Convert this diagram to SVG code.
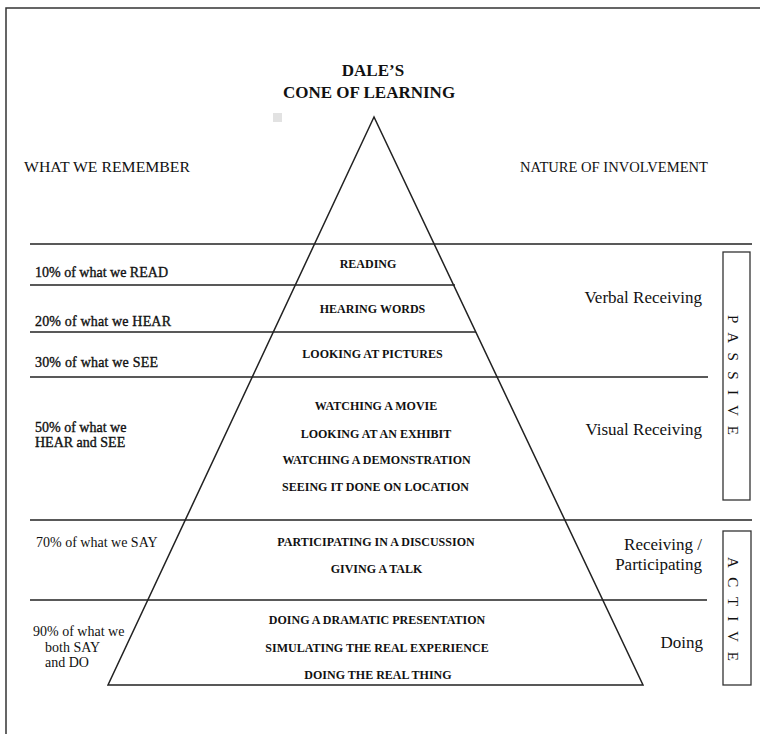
<svg xmlns="http://www.w3.org/2000/svg" width="760" height="734" viewBox="0 0 760 734">
<style>
text{font-family:"Liberation Serif","Times New Roman",serif;fill:#111}
.t{font-weight:bold;font-size:17px;text-anchor:middle}
.h{font-size:14px}
.c{font-weight:bold;font-size:12px;text-anchor:middle}
.lb{font-size:14px;stroke:#111;stroke-width:0.35}
.lr{font-size:14px}
.r{font-size:17px;text-anchor:end}
.v{font-size:15px}
.ln{stroke:#222;stroke-width:1.5;fill:none}
.box{stroke:#333;stroke-width:1.3;fill:none}
</style>
<rect width="760" height="734" fill="#fff"/>
<path d="M6,734 V8 H760" fill="none" stroke="#333" stroke-width="1.5"/>
<rect x="273" y="113" width="9" height="9" fill="#e2e2e2"/>
<g id="title">
<text class="t" x="373" y="76">DALE’S</text>
<text class="t" x="369" y="98">CONE OF LEARNING</text>
</g>
<g id="headers">
<text class="h" x="24" y="172" textLength="166" lengthAdjust="spacingAndGlyphs">WHAT WE REMEMBER</text>
<text class="h" x="520" y="172" textLength="188" lengthAdjust="spacingAndGlyphs">NATURE OF INVOLVEMENT</text>
</g>
<g id="connectors">
<polygon class="ln" points="374,117 108,685 643,685" stroke-width="1.3"/>
<line class="ln" x1="30" y1="244" x2="752" y2="244"/>
<line class="ln" x1="30" y1="285" x2="455" y2="285"/>
<line class="ln" x1="30" y1="332" x2="476" y2="332"/>
<line class="ln" x1="30" y1="377" x2="708" y2="377"/>
<line class="ln" x1="30" y1="520" x2="752" y2="520"/>
<line class="ln" x1="30" y1="600" x2="707" y2="600"/>
</g>
<g id="reading">
<text class="c" x="368" y="268">READING</text>
<text class="lb" x="35" y="277" textLength="133">10% of what we READ</text>
</g>
<g id="hearing">
<text class="c" x="372.5" y="313">HEARING WORDS</text>
<text class="lb" x="35" y="326" textLength="136">20% of what we HEAR</text>
</g>
<g id="pictures">
<text class="c" x="372.5" y="358">LOOKING AT PICTURES</text>
<text class="lb" x="35" y="367" textLength="123">30% of what we SEE</text>
</g>
<g id="visual">
<text class="c" x="376" y="410">WATCHING A MOVIE</text>
<text class="c" x="376" y="438">LOOKING AT AN EXHIBIT</text>
<text class="c" x="376.5" y="464">WATCHING A DEMONSTRATION</text>
<text class="c" x="375.5" y="491">SEEING IT DONE ON LOCATION</text>
<text class="lb" x="35" y="432">50% of what we</text>
<text class="lb" x="35" y="447">HEAR and SEE</text>
</g>
<g id="participating">
<text class="c" x="376" y="546">PARTICIPATING IN A DISCUSSION</text>
<text class="c" x="376.5" y="573">GIVING A TALK</text>
<text class="lr" x="36" y="547">70% of what we SAY</text>
</g>
<g id="doing">
<text class="c" x="377" y="624">DOING A DRAMATIC PRESENTATION</text>
<text class="c" x="377" y="652">SIMULATING THE REAL EXPERIENCE</text>
<text class="c" x="378" y="679">DOING THE REAL THING</text>
<text class="lr" x="33" y="636">90% of what we</text>
<text class="lr" x="45" y="652">both SAY</text>
<text class="lr" x="45" y="667">and DO</text>
</g>
<g id="involvement">
<text class="r" x="702" y="303">Verbal Receiving</text>
<text class="r" x="702" y="435">Visual Receiving</text>
<text class="r" x="702" y="550">Receiving /</text>
<text class="r" x="702" y="570">Participating</text>
<text class="r" x="703" y="648">Doing</text>
</g>
<g id="passive">
<rect class="box" x="723" y="252" width="27" height="248"/>
<text class="v" transform="translate(728,315) rotate(90)" textLength="120" lengthAdjust="spacing">P A S S I V E</text>
</g>
<g id="active">
<rect class="box" x="723" y="531" width="28" height="154"/>
<text class="v" transform="translate(728,557) rotate(90)" textLength="104" lengthAdjust="spacing">A C T I V E</text>
</g>
</svg>
